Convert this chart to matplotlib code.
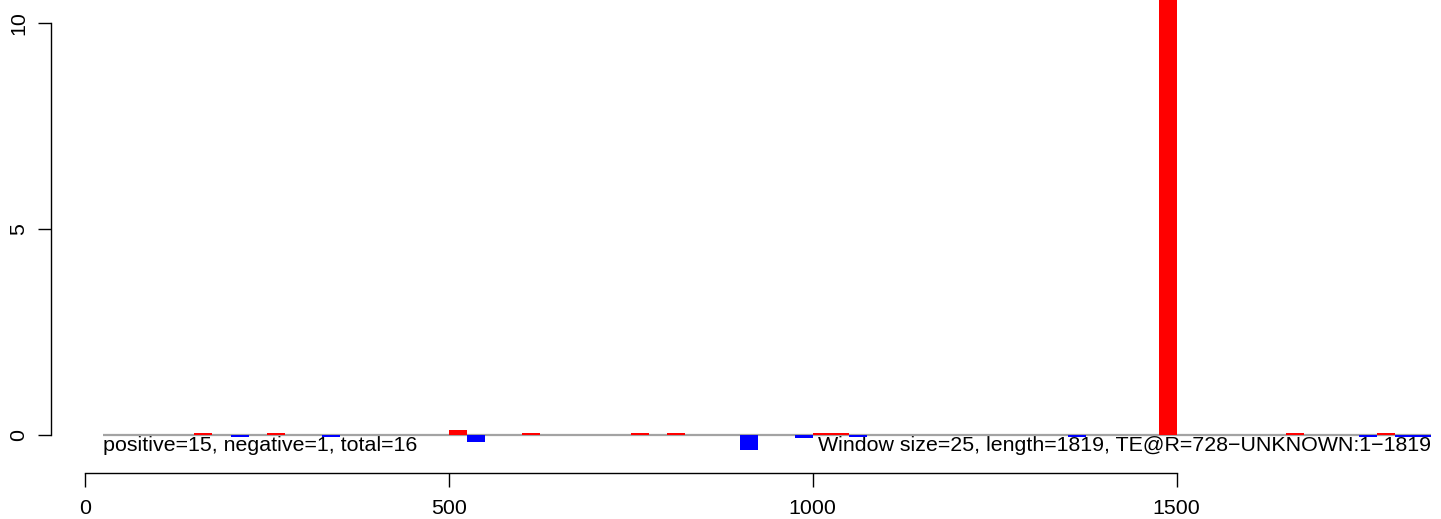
import matplotlib

matplotlib.use("Agg")
import matplotlib.pyplot as plt

plt.rcParams["font.family"] = ["Liberation Sans", "DejaVu Sans"]

# ------------------------------------------------------------------ data ---
WINDOW = 25
SEQ_LEN = 1819

# window start positions and per-window signal (red = positive, blue = negative)
pos_starts = [150, 250, 500, 600, 750, 800, 1000, 1025, 1475, 1650, 1775]
pos_values = [0.05, 0.05, 0.12, 0.05, 0.05, 0.05, 0.05, 0.05, 20.0, 0.06, 0.05]

neg_starts = [200, 325, 525, 900, 975, 1050, 1350, 1750, 1800, 1825]
neg_values = [-0.05, -0.05, -0.16, -0.36, -0.08, -0.05, -0.05, -0.05, -0.05, -0.05]

x_ticks = [0, 500, 1000, 1500]
y_ticks = [0, 5, 10]

left_label = "positive=15, negative=1, total=16"
right_label = "Window size=25, length=1819, TE@R=728\u2212UNKNOWN:1\u22121819"

# ---------------------------------------------------------------- layout ---
W_PX, H_PX = 1441, 519
X0_PX, X1500_PX = 85.0, 1176.7      # pixel columns of x=0 and x=1500
Y0_PX, Y10_PX = 435.0, 22.7         # pixel rows of y=0 and y=10
sx = (X1500_PX - X0_PX) / 1500
sy = (Y0_PX - Y10_PX) / 10

fig = plt.figure(figsize=(W_PX / 100, H_PX / 100), dpi=100)
ax = fig.add_axes([0, 0, 1, 1])
ax.set_xlim(-X0_PX / sx, (W_PX - X0_PX) / sx)
ax.set_ylim(-(H_PX - Y0_PX) / sy, 10 + Y10_PX / sy)
ax.patch.set_visible(False)

FS = 15.4

# annotations go under the bars
ax.text(WINDOW, -0.03, left_label, ha="left", va="top", fontsize=FS, zorder=1)
ax.text(WINDOW + 1825, -0.03, right_label, ha="right", va="top",
        fontsize=FS, zorder=1)

# zero line across the windows
ax.plot([WINDOW, WINDOW + 1825], [0, 0], color="#a3a3a3", lw=1.6, zorder=2,
        solid_capstyle="butt")

ax.bar(pos_starts, pos_values, width=WINDOW, align="edge", color="#ff0000",
       linewidth=0, zorder=3)
ax.bar(neg_starts, neg_values, width=WINDOW, align="edge", color="#0000ff",
       linewidth=0, zorder=3)

# R-style detached axes
for s in ("top", "right"):
    ax.spines[s].set_visible(False)
ax.spines["left"].set_position(("data", (51 - X0_PX) / sx))
ax.spines["left"].set_bounds(0, 10)
ax.spines["bottom"].set_position(("data", -(472.7 - Y0_PX) / sy))
ax.spines["bottom"].set_bounds(0, 1500)
for s in ("left", "bottom"):
    ax.spines[s].set_linewidth(1.0)

ax.set_xticks(x_ticks)
ax.set_yticks(y_ticks)
ax.tick_params(axis="x", direction="out", length=10, width=1.0, pad=9,
               labelsize=FS)
ax.tick_params(axis="y", direction="out", length=9.4, width=1.0, pad=7,
               labelsize=FS, labelrotation=90)
for lab in ax.get_yticklabels():
    lab.set_va("center")

fig.savefig("out.png", dpi=100)
